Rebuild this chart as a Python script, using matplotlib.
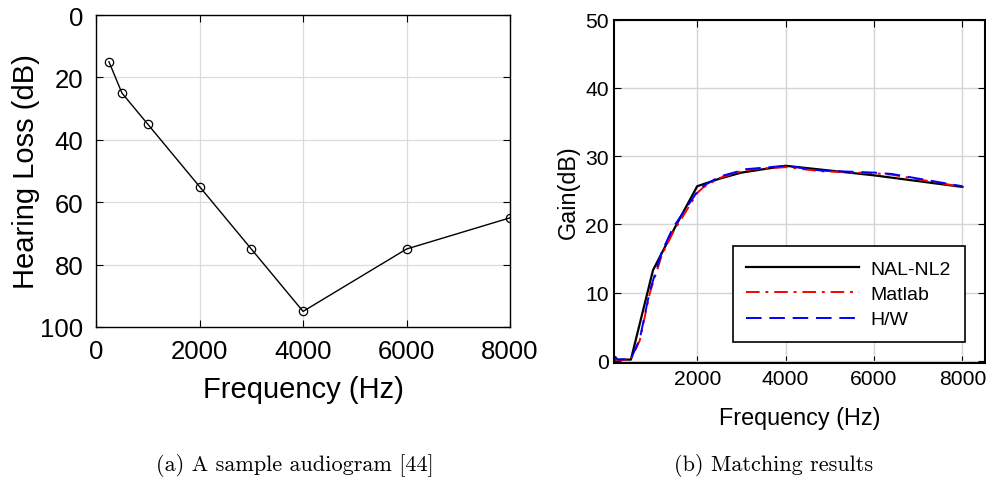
import matplotlib
matplotlib.use('Agg')
import matplotlib.pyplot as plt

plt.rcParams['font.family'] = ['Liberation Sans', 'DejaVu Sans']

# (a) audiogram
hl_freq = [250, 500, 1000, 2000, 3000, 4000, 6000, 8000]
hl_db = [15, 25, 35, 55, 75, 95, 75, 65]

# (b) matching results
nal_freq = [125, 150, 200, 500, 1000, 1500, 2000, 2500, 3000, 4000, 6000, 8000]
nal_gain = [0.0, 0.4, 0.2, 0.2, 13.3, 19.6, 25.6, 26.7, 27.6, 28.6, 27.2, 25.5]

mat_freq = [125, 150, 200, 500, 700, 930, 1200, 1450, 2000, 2130, 2500, 3100, 4000, 4800, 6000, 6400, 8000]
mat_gain = [0.0, 0.3, 0.1, 0.2, 3.0, 10.0, 15.5, 18.8, 24.6, 25.4, 26.8, 28.0, 28.4, 27.8, 27.5, 27.3, 25.5]

hw_freq = [125, 150, 200, 500, 700, 930, 1200, 1450, 2000, 2130, 2500, 3100, 4000, 4800, 6000, 6400, 8000]
hw_gain = [0.0, 0.6, 0.2, 0.3, 3.2, 10.3, 16.0, 19.5, 24.8, 25.6, 27.0, 28.1, 28.6, 27.9, 27.6, 27.4, 25.6]


def matlab_style(ax, fs, pad):
    ax.tick_params(direction='in', top=True, right=True, labelsize=fs, length=5, width=0.8, pad=pad)
    ax.grid(True, color='#dcdcdc', linewidth=0.9)
    ax.set_axisbelow(True)
    for s in ax.spines.values():
        s.set_linewidth(1.0)


fig = plt.figure(figsize=(9.87, 4.81), dpi=100)

ax = fig.add_axes([0.0973, 0.3181, 0.4195, 0.6486])
ax.plot(hl_freq, hl_db, color='black', linewidth=1.0, marker='o', markersize=6,
        markerfacecolor='none', markeredgewidth=0.9)
ax.set_xlim(0, 8000)
ax.set_ylim(100, 0)
ax.set_xticks([0, 2000, 4000, 6000, 8000])
ax.set_yticks([0, 20, 40, 60, 80, 100])
matlab_style(ax, 18.5, 9)
ax.set_xlabel('Frequency (Hz)', fontsize=21, labelpad=8)
ax.set_ylabel('Hearing Loss (dB)', fontsize=21, labelpad=0)

bx = fig.add_axes([0.6224, 0.2432, 0.376, 0.7137])
bx.plot(nal_freq, nal_gain, color='black', linewidth=1.6, label='NAL-NL2')
bx.plot(mat_freq, mat_gain, color='red', linewidth=1.4, dashes=[7, 3, 1.5, 3], label='Matlab')
bx.plot(hw_freq, hw_gain, color='blue', linewidth=1.4, dashes=[8, 4], label='H/W')
bx.set_xlim(125, 8520)
bx.set_ylim(-0.3, 50)
bx.set_xticks([2000, 4000, 6000, 8000])
bx.set_yticks([0, 10, 20, 30, 40, 50])
matlab_style(bx, 15.2, 4)
bx.grid(True, color='#d4d4d4', linewidth=1.0)
bx.set_xlabel('Frequency (Hz)', fontsize=16.8, labelpad=13)
bx.set_ylabel('Gain(dB)', fontsize=16.8, labelpad=4)
for s in bx.spines.values():
    s.set_linewidth(1.5)
leg = bx.legend(loc='lower right', bbox_to_anchor=(0.944, 0.061), fontsize=14,
                handlelength=5.8, fancybox=False, framealpha=1, edgecolor='black',
                borderpad=0.7, labelspacing=0.4, borderaxespad=0, handletextpad=0.6)
leg.get_frame().set_linewidth(1.2)

fig.text(0.299, 0.033, '(a) A sample audiogram [44]', family='cmr10', fontsize=16,
         ha='center', va='center')
fig.text(0.784, 0.033, '(b) Matching results', family='cmr10', fontsize=16,
         ha='center', va='center')

fig.savefig('out.png', dpi=100)
